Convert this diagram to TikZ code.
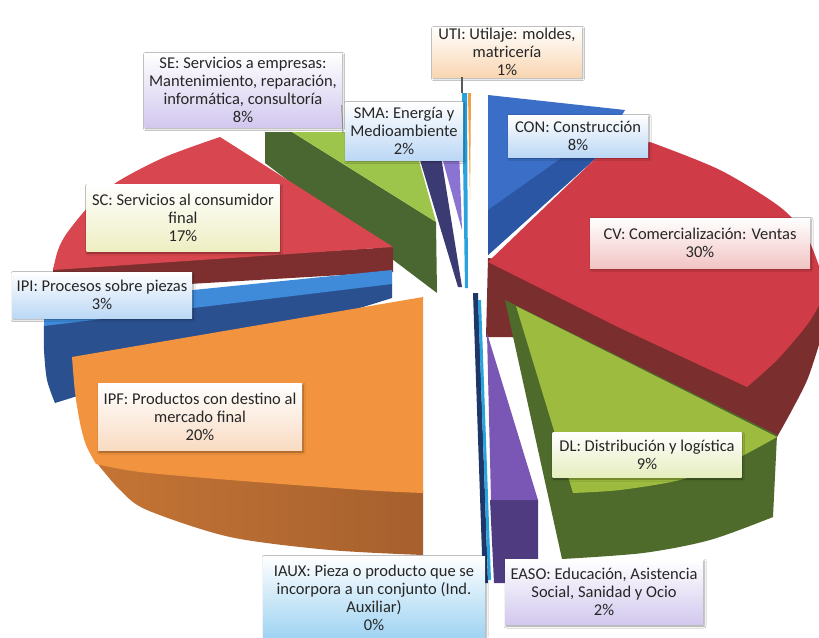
\documentclass[tikz,border=0pt]{standalone}
\usepackage{fontspec}
\setmainfont{Carlito}
\usetikzlibrary{shadows.blur}

\definecolor{contop}{HTML}{3B6EC6}
\definecolor{conside}{HTML}{2B56A3}
\definecolor{cvtop}{HTML}{CF3B46}
\definecolor{cvside}{HTML}{7B2E2E}
\definecolor{dltop}{HTML}{9DBB3E}
\definecolor{dlside}{HTML}{4E6B2B}
\definecolor{easotop}{HTML}{7A56B5}
\definecolor{easoside}{HTML}{4E3B80}
\definecolor{iauxcyan}{HTML}{2AA2DC}
\definecolor{iauxnavy}{HTML}{1F3668}
\definecolor{ipftop}{HTML}{F2943F}
\definecolor{ipfside}{HTML}{A6602E}
\definecolor{ipitop}{HTML}{3F8BDA}
\definecolor{ipiside}{HTML}{2A5090}
\definecolor{sctop}{HTML}{D8474F}
\definecolor{scside}{HTML}{7D2F2F}
\definecolor{setop}{HTML}{9EC54B}
\definecolor{seside}{HTML}{4B6731}
\definecolor{smaside}{HTML}{3B3A73}
\definecolor{smatop}{HTML}{8B73D2}
\definecolor{utiorange}{HTML}{F0A040}

\definecolor{lblpurple}{HTML}{D2C8EE}
\definecolor{lblblue}{HTML}{BCD8F5}
\definecolor{lblpeach}{HTML}{F9D6B2}
\definecolor{lblpink}{HTML}{F2C4C4}
\definecolor{lblcream}{HTML}{EEEEC2}
\definecolor{lblgreen}{HTML}{E5EEBE}
\definecolor{lblsky}{HTML}{9CD2F2}
\definecolor{lblorange}{HTML}{F9DBC2}

\begin{document}
\begin{tikzpicture}[x=1pt, y=-1pt,
    lbl/.style={align=center, font=\fontsize{16.5}{18}\selectfont, text=black!85, inner sep=1pt, blur shadow={shadow blur steps=5, shadow xshift=1pt, shadow yshift=-1.5pt, shadow blur radius=2pt}},
    shadelbl/.style={lbl, top color=white, bottom color=#1},
    leader/.style={draw=black!65, line width=1.5pt},
    ]

\useasboundingbox[fill=white] (0,0) rectangle (819,637);

% SE
\fill[seside] (265,132) -- (292,132) -- (436,222) -- (437,293) -- (265,163) -- cycle;
\fill[setop] (292,132) -- (411,132) -- (436,222) -- cycle;

% SMA
\fill[smaside] (417,150) -- (440,150) -- (462,287) -- (458,287) -- cycle;
\fill[smatop] (440,150) -- (459,150) -- (462,230) -- cycle;

% UTI
\fill[iauxcyan] (462,93) -- (467,93) -- (468,288) -- (465,288) -- cycle;
\fill[utiorange] (468,93) -- (471,93) -- (470,200) -- cycle;

% CON
\fill[contop] (488,95) -- (625,110) -- (597,157) -- (488,255) -- cycle;
\fill[conside] (488,210) -- (563,157) -- (597,157) -- (488,255) -- cycle;

% CV
\fill[cvside] (488,258) -- (486,337) -- (512,337) -- (777,437)
    -- plot[smooth] coordinates {(777,437) (792,410) (808,378) (822,335)} -- (822,300) -- cycle;
\fill[cvtop] (488,262) -- (597,157)
    -- plot[smooth] coordinates {(650,142) (720,170) (780,207) (807,237) (822,275)} -- (822,300)
    -- plot[smooth] coordinates {(822,300) (807,325) (777,360) (747,387)} -- (620,328) -- cycle;

% DL
\fill[dlside] (505,300) -- (777,435) -- (773,517)
    -- plot[smooth] coordinates {(773,517) (710,540) (643,553) (562,559)} -- cycle;
\fill[dltop] (516,306) -- (777,437)
    -- plot[smooth] coordinates {(777,437) (730,462) (680,480) (620,490) (573,493)} -- cycle;

% IAUX
\fill[iauxnavy] (473,293) -- (478,293) -- (488,583) -- (483,583) -- cycle;
\fill[iauxcyan] (478,300) -- (481,300) -- (491,580) -- (488,580) -- cycle;

% EASO
\fill[easoside] (490,500) -- (538,500) -- (538,562) -- (505,583) -- (494,583) -- cycle;
\fill[easotop] (487,333) -- (538,500) -- (491,500) -- cycle;

% SC
\fill[scside] (53,268) -- (393,247) -- (393,272) -- (53,292) -- cycle;
\fill[sctop] (220,137) -- (393,247) -- (53,270)
    -- plot[smooth] coordinates {(53,270) (58,250) (67,233) (90,205) (117,182) (165,157) (220,137)} -- cycle;

% IPI
\fill[ipiside] (392,283) -- (392,298) -- (55,403)
    -- plot[smooth] coordinates {(55,403) (47,380) (44,350) (44,325)} -- cycle;
\fill[ipitop] (392,270) -- (392,284) -- (44,326) -- (44,305) -- cycle;

% IPF
\shade[left color=ipfside!60!ipftop, right color=ipfside]
    plot[smooth] coordinates {(96,462) (120,490) (147,510) (230,537) (330,550) (423,555)} -- (423,490) -- cycle;
\fill[ipftop] (72,357) -- (423,297) -- (423,493)
    -- plot[smooth] coordinates {(423,493) (363,490) (230,480) (140,472) (96,464)}
    -- plot[smooth] coordinates {(96,464) (86,445) (80,423) (75,392) (72,357)} -- cycle;

% labels
\node[shadelbl=lblpeach, minimum width=149pt, minimum height=50pt] at (507,52) (uti)
    {UTI: Utilaje: moldes,\\matricería\\1\%};
\node[shadelbl=lblpurple, minimum width=197pt, minimum height=74pt] at (243,90) (se)
    {SE: Servicios a empresas:\\Mantenimiento, reparación,\\informática, consultoría\\8\%};
\node[shadelbl=lblblue, minimum width=118pt, minimum height=58pt] at (404,131) (sma)
    {SMA: Energía y\\Medioambiente\\2\%};
\node[shadelbl=lblblue, minimum width=140pt, minimum height=42pt] at (578,136) (con)
    {CON: Construcción\\8\%};
\node[shadelbl=lblpink, minimum width=220pt, minimum height=50pt] at (700,243) (cv)
    {CV: Comercialización: Ventas\\30\%};
\node[shadelbl=lblcream, minimum width=193pt, minimum height=67pt] at (183,218) (sc)
    {SC: Servicios al consumidor\\final\\17\%};
\node[shadelbl=lblblue, minimum width=180pt, minimum height=46pt] at (102,295) (ipi)
    {IPI: Procesos sobre piezas\\3\%};
\node[shadelbl=lblorange, minimum width=204pt, minimum height=67pt] at (200,417) (ipf)
    {IPF: Productos con destino al\\mercado final\\20\%};
\node[shadelbl=lblgreen, minimum width=189pt, minimum height=45pt] at (647,455) (dl)
    {DL: Distribución y logística\\9\%};
\node[shadelbl=lblpurple, minimum width=198pt, minimum height=65pt] at (604,592) (easo)
    {EASO: Educación, Asistencia\\Social, Sanidad y Ocio\\2\%};
\node[shadelbl=lblsky, minimum width=222pt, minimum height=84pt] at (374,598) (iaux)
    {IAUX: Pieza o producto que se\\incorpora a un conjunto (Ind.\\Auxiliar)\\0\%};

\coordinate (utitip) at (462,93);
\coordinate (setip) at (343,133);
\draw[leader] (utitip |- uti.south) -- (utitip);
\draw[leader, line width=1pt, draw=black!45] ([yshift=22pt]se.south east) -- (setip);

\end{tikzpicture}
\end{document}
